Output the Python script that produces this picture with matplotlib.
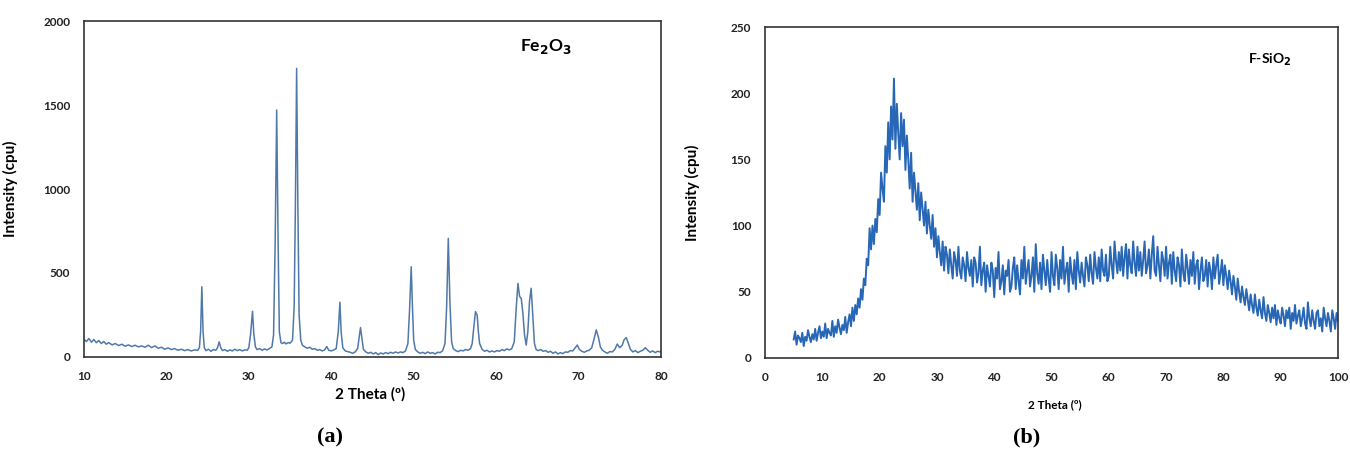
import matplotlib.pyplot as plt
import numpy as np

# Fe2O3 pattern
fe_theta = [10.0, 10.3, 10.6, 10.9, 11.2, 11.5, 11.8, 12.1, 12.4, 12.7, 13.0, 13.4, 13.8, 14.2, 14.6,
            15.0, 15.4, 15.8, 16.2, 16.6, 17.0, 17.4, 17.8, 18.2, 18.6, 19.0, 19.4, 19.8, 20.2, 20.6,
            21.0, 21.4, 21.8, 22.2, 22.6, 23.0, 23.4, 23.8, 24.0, 24.15, 24.3, 24.45, 24.6, 24.8, 25.1,
            25.4, 25.7, 26.0, 26.2, 26.4, 26.6, 26.8, 27.1, 27.4, 27.7, 28.0, 28.3, 28.6, 28.9, 29.2,
            29.5, 29.8, 30.0, 30.2, 30.45, 30.6, 30.8, 31.0, 31.3, 31.6, 31.9, 32.2, 32.5, 32.8, 33.0,
            33.2, 33.38, 33.55, 33.7, 33.9, 34.1, 34.3, 34.5, 34.8, 35.0, 35.3, 35.5, 35.65, 35.8, 35.95,
            36.1, 36.3, 36.5, 36.8, 37.1, 37.4, 37.7, 38.0, 38.3, 38.6, 38.9, 39.2, 39.45, 39.7, 40.0,
            40.3, 40.6, 40.85, 41.05, 41.2, 41.4, 41.7, 42.0, 42.3, 42.6, 42.9, 43.2, 43.4, 43.55, 43.7,
            43.9, 44.2, 44.5, 44.8, 45.1, 45.4, 45.7, 46.0, 46.3, 46.6, 46.9, 47.2, 47.5, 47.8, 48.1,
            48.4, 48.7, 49.0, 49.3, 49.5, 49.7, 49.85, 50.0, 50.2, 50.5, 50.8, 51.1, 51.4, 51.7, 52.0,
            52.3, 52.6, 52.9, 53.2, 53.5, 53.8, 54.0, 54.2, 54.4, 54.6, 54.8, 55.1, 55.4, 55.7, 56.0,
            56.3, 56.6, 56.9, 57.1, 57.3, 57.5, 57.7, 57.85, 58.0, 58.3, 58.6, 58.9, 59.2, 59.5, 59.8,
            60.1, 60.4, 60.7, 61.0, 61.3, 61.6, 61.9, 62.2, 62.45, 62.65, 62.85, 63.05, 63.25, 63.45, 63.65,
            63.85, 64.05, 64.25, 64.45, 64.65, 64.85, 65.1, 65.4, 65.7, 66.0, 66.3, 66.6, 66.9, 67.2, 67.5,
            67.8, 68.1, 68.4, 68.7, 69.0, 69.3, 69.6, 69.85, 70.1, 70.4, 70.7, 71.0, 71.3, 71.6, 71.9,
            72.15, 72.4, 72.65, 72.9, 73.2, 73.5, 73.8, 74.1, 74.4, 74.7, 75.0, 75.3, 75.55, 75.8, 76.05,
            76.3, 76.6, 76.9, 77.2, 77.5, 77.8, 78.1, 78.4, 78.7, 79.0, 79.3, 79.6, 79.9, 80.0]
fe_counts = [105, 92, 110, 88, 104, 85, 98, 80, 92, 76, 86, 72, 80, 68, 76,
             64, 72, 62, 70, 60, 66, 58, 70, 56, 66, 52, 58, 46, 54, 44,
             50, 40, 46, 38, 44, 36, 42, 40, 55, 150, 418, 150, 55, 38, 46,
             34, 44, 40, 55, 90, 55, 38, 44, 34, 42, 36, 46, 38, 44, 36,
             42, 40, 55, 130, 272, 140, 60, 44, 50, 40, 48, 42, 50, 60, 130,
             700, 1470, 700, 150, 85, 80, 88, 78, 86, 82, 100, 300, 900, 1718, 900,
             250, 100, 70, 60, 52, 58, 46, 50, 40, 44, 36, 42, 62, 40, 36,
             42, 50, 150, 326, 150, 55, 36, 32, 28, 22, 30, 50, 120, 175, 120,
             45, 30, 22, 28, 18, 26, 14, 24, 18, 26, 20, 28, 22, 30, 24,
             30, 26, 36, 80, 280, 537, 300, 100, 45, 30, 22, 28, 20, 30, 22,
             26, 18, 28, 26, 36, 80, 300, 706, 320, 90, 50, 38, 32, 40, 36,
             44, 40, 50, 80, 180, 270, 250, 150, 80, 45, 34, 40, 30, 36, 30,
             38, 34, 44, 38, 48, 42, 50, 90, 300, 438, 360, 349, 260, 130, 71,
             150, 330, 409, 250, 80, 45, 38, 44, 34, 38, 28, 34, 22, 30, 18,
             26, 20, 30, 28, 38, 36, 55, 71, 45, 34, 28, 36, 40, 55, 110,
             161, 120, 60, 40, 30, 22, 32, 30, 45, 77, 55, 70, 105, 115, 80,
             45, 30, 38, 26, 34, 40, 55, 40, 28, 36, 26, 34, 30, 34]

# F-SiO2 pattern, every 0.25 degree from 5 to 100
sio2_counts = [
    14, 20, 10, 17, 15, 12, 19, 9, 16, 13, 21, 16, 12, 18, 14, 22, 13, 19, 24, 15,
    20, 16, 26, 15, 22, 19, 17, 28, 16, 24, 19, 29, 23, 18, 25, 21, 31, 19, 27, 33,
    24, 38, 28, 40, 33, 45, 38, 52, 44, 60, 55, 75, 70, 98, 82, 100, 86, 105, 95, 120,
    108, 140, 128, 118, 160, 140, 178, 150, 190, 165, 211, 158, 192, 170, 150, 185, 160, 180, 142, 168,
    150, 128, 155, 118, 140, 126, 112, 132, 104, 125, 112, 100, 118, 94, 112, 100, 90, 108, 84, 98,
    76, 92, 80, 70, 88, 66, 84, 78, 64, 82, 70, 60, 80, 74, 62, 84, 66, 60, 76, 70,
    58, 80, 68, 62, 74, 54, 76, 72, 57, 64, 84, 55, 66, 72, 50, 70, 62, 54, 72, 66,
    46, 68, 60, 80, 52, 58, 70, 48, 66, 62, 74, 50, 54, 68, 76, 52, 70, 58, 48, 74,
    60, 84, 56, 66, 74, 54, 62, 76, 50, 86, 64, 56, 72, 52, 78, 66, 55, 74, 60, 50,
    80, 62, 55, 78, 68, 52, 74, 60, 84, 56, 66, 72, 50, 76, 64, 56, 74, 52, 80, 66,
    57, 72, 62, 54, 76, 70, 58, 78, 64, 56, 80, 68, 60, 76, 58, 82, 66, 62, 78, 58,
    62, 84, 70, 60, 88, 74, 64, 80, 66, 84, 62, 76, 86, 60, 82, 70, 64, 88, 72, 62,
    84, 66, 80, 62, 74, 88, 64, 70, 82, 60, 78, 92, 66, 62, 84, 70, 58, 80, 74, 62,
    84, 60, 72, 78, 56, 80, 66, 58, 76, 70, 54, 82, 64, 58, 78, 68, 56, 74, 62, 80,
    56, 70, 74, 52, 66, 76, 58, 62, 74, 54, 72, 66, 52, 76, 60, 70, 78, 56, 64, 74,
    55, 70, 62, 52, 66, 58, 48, 62, 54, 44, 60, 50, 42, 54, 46, 40, 52, 44, 36, 48,
    40, 34, 48, 38, 32, 44, 36, 30, 46, 34, 28, 40, 34, 27, 38, 30, 40, 25, 36, 30,
    26, 38, 32, 24, 36, 30, 38, 22, 34, 28, 40, 26, 32, 36, 24, 30, 38, 26, 22, 42,
    30, 24, 36, 28, 22, 34, 36, 24, 30, 20, 38, 30, 24, 34, 28, 20, 36, 30, 22, 34,
    28]
sio2_theta = np.linspace(5, 100, len(sio2_counts))

fig = plt.figure(figsize=(13.5, 4.54), dpi=100)
font = 'Lato'

ax1 = fig.add_axes([0.0622, 0.2137, 0.4274, 0.74])
ax1.plot(fe_theta, fe_counts, color='#5079a8', lw=1.1)
ax1.set_xlim(10, 80)
ax1.set_ylim(0, 2000)
ax1.set_xticks(range(10, 81, 10))
ax1.set_yticks(range(0, 2001, 500))
ax1.set_xlabel('2 Theta (º)', fontsize=11, fontweight='bold', family=font)
ax1.set_ylabel('Intensity (cpu)', fontsize=11, fontweight='bold', family=font)
ax1.xaxis.set_label_coords(0.496, -0.09)
ax1.yaxis.set_label_coords(-0.114, 0.5)
ax1.text(0.8, 0.925, 'Fe$_\\mathbf{2}$O$_\\mathbf{3}$', transform=ax1.transAxes, ha='center', va='center',
         fontsize=12.5, fontweight='bold', family=font)

ax2 = fig.add_axes([0.5667, 0.2115, 0.4244, 0.729])
ax2.plot(sio2_theta, sio2_counts, color='#2767b5', lw=1.4)
ax2.set_xlim(0, 100)
ax2.set_ylim(0, 250)
ax2.set_xticks(range(0, 101, 10))
ax2.set_yticks(range(0, 251, 50))
ax2.set_xlabel('2 Theta (º)', fontsize=8.5, fontweight='bold', family=font)
ax2.set_ylabel('Intensity (cpu)', fontsize=11, fontweight='bold', family=font)
ax2.xaxis.set_label_coords(0.506, -0.125)
ax2.yaxis.set_label_coords(-0.113, 0.5)
ax2.text(0.88, 0.9, 'F-SiO$_\\mathbf{2}$', transform=ax2.transAxes, ha='center', va='center',
         fontsize=10, fontweight='bold', family=font)

for ax in (ax1, ax2):
    for s in ax.spines.values():
        s.set_color('#333333')
        s.set_linewidth(1.2)
    ax.tick_params(length=0, labelsize=8.5, colors='#222222')
    ax.tick_params(axis='x', pad=10)
    ax.tick_params(axis='y', pad=10)
    for lab in ax.get_xticklabels() + ax.get_yticklabels():
        lab.set_fontweight('bold')
        lab.set_family(font)

fig.text(330 / 1350, 1 - 437 / 454, '(a)', ha='center', va='center', fontsize=16,
         fontweight='bold', family='Liberation Serif')
fig.text(1027 / 1350, 1 - 437 / 454, '(b)', ha='center', va='center', fontsize=16,
         fontweight='bold', family='Liberation Serif')

plt.savefig('out.png', dpi=100)
